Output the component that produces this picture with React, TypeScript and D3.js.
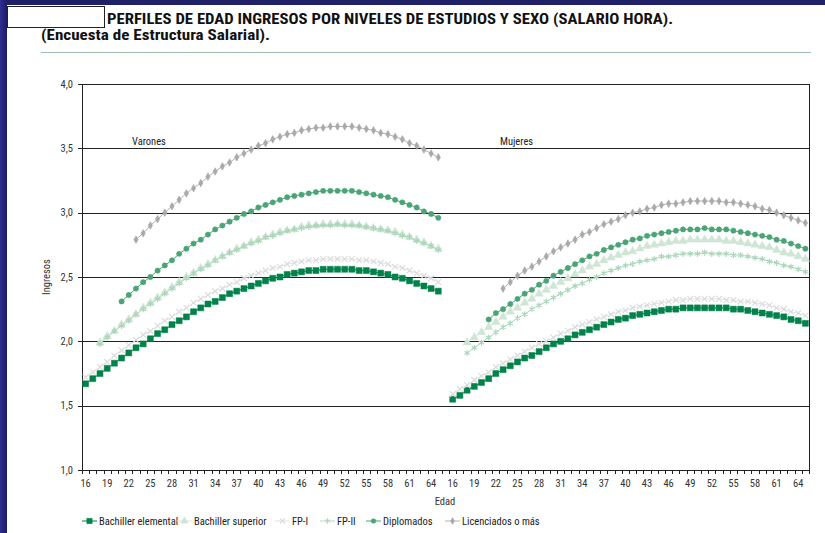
import * as d3 from "d3"

// edades (categorías del eje X, se repiten para varones y mujeres)
const edades = [
  16, 17, 18, 19, 20, 21, 22, 23, 24, 25, 26, 27, 28, 29, 30, 31, 32, 33, 34, 35, 36, 37, 38, 39, 40,
  41, 42, 43, 44, 45, 46, 47, 48, 49, 50, 51, 52, 53, 54, 55, 56, 57, 58, 59, 60, 61, 62, 63, 64, 65,
]
const etiquetasEdad = [16, 19, 22, 25, 28, 31, 34, 37, 40, 43, 46, 49, 52, 55, 58, 61, 64]
const ticksY = [1.0, 1.5, 2.0, 2.5, 3.0, 3.5, 4.0]

const _ = null

// Varones
const varonesBachElemental = [
  1.67, 1.71, 1.75, 1.79, 1.83, 1.87, 1.91, 1.95, 1.98, 2.02,
  2.06, 2.09, 2.13, 2.16, 2.19, 2.23, 2.26, 2.29, 2.31, 2.34,
  2.37, 2.39, 2.41, 2.43, 2.45, 2.47, 2.49, 2.5, 2.52, 2.53,
  2.54, 2.55, 2.55, 2.56, 2.56, 2.56, 2.56, 2.56, 2.55, 2.55,
  2.54, 2.53, 2.52, 2.5, 2.49, 2.47, 2.45, 2.43, 2.41, 2.39,
]
const varonesBachSuperior = [
  _, _, 1.99, 2.04, 2.08, 2.13, 2.17, 2.21, 2.26, 2.3,
  2.34, 2.38, 2.42, 2.46, 2.5, 2.53, 2.57, 2.6, 2.63, 2.66,
  2.69, 2.72, 2.74, 2.77, 2.79, 2.81, 2.83, 2.85, 2.86, 2.87,
  2.89, 2.9, 2.9, 2.91, 2.91, 2.91, 2.91, 2.91, 2.9, 2.89,
  2.88, 2.87, 2.86, 2.85, 2.83, 2.81, 2.79, 2.77, 2.74, 2.72,
]
const varonesFP1 = [
  1.72, 1.76, 1.8, 1.84, 1.89, 1.93, 1.97, 2.01, 2.05, 2.08,
  2.12, 2.16, 2.19, 2.23, 2.26, 2.3, 2.33, 2.36, 2.39, 2.41,
  2.44, 2.46, 2.49, 2.51, 2.53, 2.55, 2.57, 2.58, 2.6, 2.61,
  2.62, 2.63, 2.63, 2.64, 2.64, 2.64, 2.64, 2.64, 2.63, 2.63,
  2.62, 2.61, 2.6, 2.58, 2.57, 2.55, 2.53, 2.51, 2.49, 2.46,
]
const varonesFP2 = [
  _, _, 1.98, 2.03, 2.08, 2.12, 2.16, 2.21, 2.25, 2.29,
  2.33, 2.37, 2.41, 2.45, 2.49, 2.53, 2.56, 2.59, 2.63, 2.66,
  2.69, 2.71, 2.74, 2.76, 2.78, 2.81, 2.82, 2.84, 2.86, 2.87,
  2.88, 2.89, 2.9, 2.9, 2.9, 2.91, 2.9, 2.9, 2.9, 2.89,
  2.88, 2.87, 2.86, 2.84, 2.82, 2.81, 2.78, 2.76, 2.74, 2.71,
]
const varonesDiplomados = [
  _, _, _, _, _, 2.31, 2.36, 2.41, 2.46, 2.5,
  2.55, 2.59, 2.63, 2.68, 2.72, 2.76, 2.79, 2.83, 2.87, 2.9,
  2.93, 2.96, 2.99, 3.01, 3.04, 3.06, 3.08, 3.1, 3.12, 3.13,
  3.14, 3.15, 3.16, 3.17, 3.17, 3.17, 3.17, 3.17, 3.16, 3.15,
  3.14, 3.13, 3.12, 3.1, 3.08, 3.06, 3.04, 3.01, 2.99, 2.96,
]
const varonesLicenciados = [
  _, _, _, _, _, _, _, 2.79, 2.84, 2.9,
  2.95, 3.0, 3.05, 3.1, 3.15, 3.19, 3.23, 3.28, 3.32, 3.36,
  3.39, 3.43, 3.46, 3.49, 3.52, 3.54, 3.57, 3.59, 3.61, 3.62,
  3.64, 3.65, 3.66, 3.66, 3.67, 3.67, 3.67, 3.67, 3.66, 3.65,
  3.64, 3.62, 3.61, 3.59, 3.57, 3.54, 3.52, 3.49, 3.46, 3.43,
]

// Mujeres
const mujeresBachElemental = [
  1.55, 1.58, 1.62, 1.65, 1.68, 1.71, 1.75, 1.78, 1.81, 1.84,
  1.87, 1.89, 1.92, 1.95, 1.98, 2.0, 2.02, 2.05, 2.07, 2.09,
  2.11, 2.13, 2.15, 2.17, 2.18, 2.2, 2.21, 2.22, 2.23, 2.24,
  2.25, 2.25, 2.26, 2.26, 2.26, 2.26, 2.26, 2.26, 2.26, 2.25,
  2.25, 2.24, 2.23, 2.22, 2.21, 2.2, 2.19, 2.17, 2.16, 2.14,
]
const mujeresBachSuperior = [
  _, _, 1.99, 2.03, 2.07, 2.11, 2.15, 2.19, 2.23, 2.26,
  2.3, 2.33, 2.37, 2.4, 2.43, 2.46, 2.49, 2.52, 2.55, 2.58,
  2.6, 2.63, 2.65, 2.67, 2.69, 2.7, 2.72, 2.74, 2.75, 2.76,
  2.77, 2.78, 2.78, 2.79, 2.79, 2.79, 2.79, 2.79, 2.78, 2.78,
  2.77, 2.76, 2.75, 2.74, 2.73, 2.71, 2.69, 2.68, 2.66, 2.64,
]
const mujeresFP1 = [
  1.59, 1.63, 1.66, 1.7, 1.73, 1.76, 1.8, 1.83, 1.86, 1.89,
  1.92, 1.95, 1.98, 2.0, 2.03, 2.06, 2.08, 2.11, 2.13, 2.15,
  2.17, 2.19, 2.21, 2.23, 2.24, 2.26, 2.27, 2.28, 2.29, 2.3,
  2.31, 2.32, 2.32, 2.33, 2.33, 2.33, 2.33, 2.33, 2.32, 2.32,
  2.31, 2.31, 2.3, 2.29, 2.28, 2.26, 2.25, 2.23, 2.22, 2.2,
]
const mujeresFP2 = [
  _, _, 1.91, 1.95, 1.99, 2.03, 2.07, 2.11, 2.14, 2.18,
  2.21, 2.25, 2.28, 2.31, 2.34, 2.37, 2.4, 2.43, 2.45, 2.48,
  2.5, 2.53, 2.55, 2.57, 2.59, 2.6, 2.62, 2.63, 2.64, 2.66,
  2.66, 2.67, 2.68, 2.68, 2.68, 2.69, 2.68, 2.68, 2.68, 2.67,
  2.67, 2.66, 2.65, 2.64, 2.62, 2.61, 2.59, 2.58, 2.56, 2.54,
]
const mujeresDiplomados = [
  _, _, _, _, _, 2.17, 2.22, 2.25, 2.29, 2.33,
  2.37, 2.4, 2.44, 2.47, 2.51, 2.54, 2.57, 2.6, 2.63, 2.66,
  2.68, 2.71, 2.73, 2.75, 2.77, 2.79, 2.8, 2.82, 2.83, 2.84,
  2.85, 2.86, 2.87, 2.87, 2.87, 2.88, 2.87, 2.87, 2.87, 2.86,
  2.85, 2.84, 2.83, 2.82, 2.81, 2.79, 2.78, 2.76, 2.74, 2.72,
]
const mujeresLicenciados = [
  _, _, _, _, _, _, _, 2.41, 2.46, 2.51,
  2.55, 2.58, 2.62, 2.66, 2.7, 2.73, 2.76, 2.79, 2.83, 2.85,
  2.88, 2.91, 2.93, 2.95, 2.98, 3.0, 3.01, 3.03, 3.04, 3.06,
  3.07, 3.07, 3.08, 3.09, 3.09, 3.09, 3.09, 3.09, 3.08, 3.08,
  3.07, 3.06, 3.05, 3.03, 3.02, 3.0, 2.98, 2.96, 2.94, 2.92,
]

const nombresSeries = [
  "Bachiller elemental",
  "Bachiller superior",
  "FP-I",
  "FP-II",
  "Diplomados",
  "Licenciados o más",
]
const datosVarones = [
  varonesBachElemental,
  varonesBachSuperior,
  varonesFP1,
  varonesFP2,
  varonesDiplomados,
  varonesLicenciados,
]
const datosMujeres = [
  mujeresBachElemental,
  mujeresBachSuperior,
  mujeresFP1,
  mujeresFP2,
  mujeresDiplomados,
  mujeresLicenciados,
]

// estilos de cada serie
const estilos = [
  { color: "#00824a", line: "#00824a", symbol: d3.symbolSquare, size: 36, stroke: false },
  { color: "#cfe5d5", line: "#d6e9dc", symbol: d3.symbolTriangle, size: 30, stroke: false },
  { color: "#dadada", line: "#e3e3e3", symbol: d3.symbolTimes, size: 24, stroke: true },
  { color: "#a9d5b8", line: "#b0d8be", symbol: d3.symbolAsterisk, size: 26, stroke: true },
  { color: "#4aa476", line: "#4aa476", symbol: d3.symbolCircle, size: 22, stroke: false },
  { color: "#a9a9a9", line: "#b2b2b2", symbol: d3.symbolDiamond, size: 17, stroke: false },
]
const leyendaX = [82, 177, 275, 320, 366, 445]

const narrow = "'Liberation Sans Narrow', 'Arial Narrow', 'Roboto Condensed', 'Liberation Sans', Arial, sans-serif"

export default function App() {
  const W = 825
  const H = 533
  const left = 82
  const right = 809
  const top = 84
  const bottom = 470

  const categorias = [...edades.map((a) => "V" + a), "hueco", ...edades.map((a) => "M" + a)]
  const x = d3.scaleBand<string>().domain(categorias).range([left, right]).padding(0)
  const y = d3.scaleLinear().domain([1, 4]).range([bottom, top])
  const bw = x.bandwidth()
  const cx = (k: string) => (x(k) || 0) + bw / 2

  const line = d3
    .line<[string, number | null]>()
    .defined((d) => d[1] != null)
    .x((d) => cx(d[0]))
    .y((d) => y(d[1] as number))

  const grupos = [
    { pref: "V", datos: datosVarones },
    { pref: "M", datos: datosMujeres },
  ]

  const fmt = (v: number) => v.toFixed(1).replace(".", ",")

  return (
    <svg width={W} height={H} style={{ position: "absolute", left: 0, top: 0, background: "#fff" }}>
      <defs>
        <linearGradient id="azul" x1="0" y1="0" x2="1" y2="0">
          <stop offset="0" stopColor="#2e2f92" />
          <stop offset="1" stopColor="#1c1d5e" />
        </linearGradient>
      </defs>
      <rect x={0} y={0} width={W} height={H} fill="#fff" />
      <rect x={0} y={0} width={W} height={5} fill="#1f2067" />
      <rect x={0} y={0} width={7} height={H} fill="url(#azul)" />

      {/* cabecera */}
      <rect x={7.5} y={6.5} width={97} height={21} fill="#fff" stroke="#222" strokeWidth={1} />
      <text
        x={107}
        y={24}
        fontFamily={narrow}
        fontWeight="bold"
        fontSize={14}
        fill="#111"
        textLength={566}
        lengthAdjust="spacingAndGlyphs"
      >
        PERFILES DE EDAD INGRESOS POR NIVELES DE ESTUDIOS Y SEXO (SALARIO HORA).
      </text>
      <text
        x={41}
        y={40}
        fontFamily={narrow}
        fontWeight="bold"
        fontSize={14}
        fill="#111"
        textLength={229}
        lengthAdjust="spacingAndGlyphs"
      >
        (Encuesta de Estructura Salarial).
      </text>
      <line x1={41} x2={811} y1={52.5} y2={52.5} stroke="#9dbfa9" strokeWidth={1} />

      {/* rejilla */}
      {ticksY.map((t) => (
        <g key={t}>
          <line x1={left - 4} x2={right} y1={Math.round(y(t)) + 0.5} y2={Math.round(y(t)) + 0.5} stroke="#222" strokeWidth={1} />
          <text
            x={73}
            y={y(t)}
            dy="0.35em"
            textAnchor="end"
            fontFamily={narrow}
            fontSize={10.5}
            fill="#333"
          >
            {fmt(t)}
          </text>
        </g>
      ))}
      <line x1={left + 0.5} x2={left + 0.5} y1={top} y2={bottom + 4} stroke="#222" />
      <line x1={right + 0.5} x2={right + 0.5} y1={top} y2={bottom + 1} stroke="#222" />

      {/* ticks eje X */}
      {[...categorias.map((c) => x(c) || 0), right].map((px, i) => (
        <line key={i} x1={Math.round(px) + 0.5} x2={Math.round(px) + 0.5} y1={bottom} y2={bottom + 4} stroke="#222" />
      ))}
      {grupos.map((g) =>
        etiquetasEdad.map((a) => (
          <text
            key={g.pref + a}
            x={cx(g.pref + a)}
            y={487}
            textAnchor="middle"
            fontFamily={narrow}
            fontSize={10.5}
            fill="#333"
          >
            {a}
          </text>
        )),
      )}
      <text x={445} y={505} textAnchor="middle" fontFamily={narrow} fontSize={10.5} fill="#333">
        Edad
      </text>
      <text
        transform={`translate(50,${(top + bottom) / 2}) rotate(-90)`}
        textAnchor="middle"
        fontFamily={narrow}
        fontSize={10.5}
        fill="#333"
      >
        Ingresos
      </text>
      <text x={132} y={145} fontFamily={narrow} fontSize={10.5} fill="#222">
        Varones
      </text>
      <text x={500} y={145} fontFamily={narrow} fontSize={10.5} fill="#222">
        Mujeres
      </text>

      {/* series */}
      {grupos.map((g) =>
        g.datos.map((vals, si) => {
          const st = estilos[si]
          const pts: [string, number | null][] = edades.map((a, i) => [g.pref + a, vals[i]])
          const sym = d3.symbol(st.symbol, st.size)()
          return (
            <g key={g.pref + si}>
              <path d={line(pts) || ""} fill="none" stroke={st.line} strokeWidth={1} />
              {pts
                .filter((d) => d[1] != null)
                .map((d) => (
                  <path
                    key={d[0]}
                    d={sym || ""}
                    transform={`translate(${cx(d[0])},${y(d[1] as number)})`}
                    fill={st.stroke ? "none" : st.color}
                    stroke={st.color}
                    strokeWidth={st.stroke ? 1.1 : 0.5}
                  />
                ))}
            </g>
          )
        }),
      )}

      {/* leyenda */}
      {nombresSeries.map((n, i) => {
        const st = estilos[i]
        const lx = leyendaX[i]
        const sym = d3.symbol(st.symbol, st.size * 0.8)()
        return (
          <g key={n} transform={`translate(${lx},521)`}>
            <line x1={0} x2={15} y1={0} y2={0} stroke={st.line} strokeWidth={1} />
            <path
              d={sym || ""}
              transform="translate(7.5,0)"
              fill={st.stroke ? "none" : st.color}
              stroke={st.color}
              strokeWidth={st.stroke ? 1.1 : 0.5}
            />
            <text x={17} dy="0.35em" fontFamily={narrow} fontSize={10.5} fill="#222">
              {n}
            </text>
          </g>
        )
      })}
    </svg>
  )
}
